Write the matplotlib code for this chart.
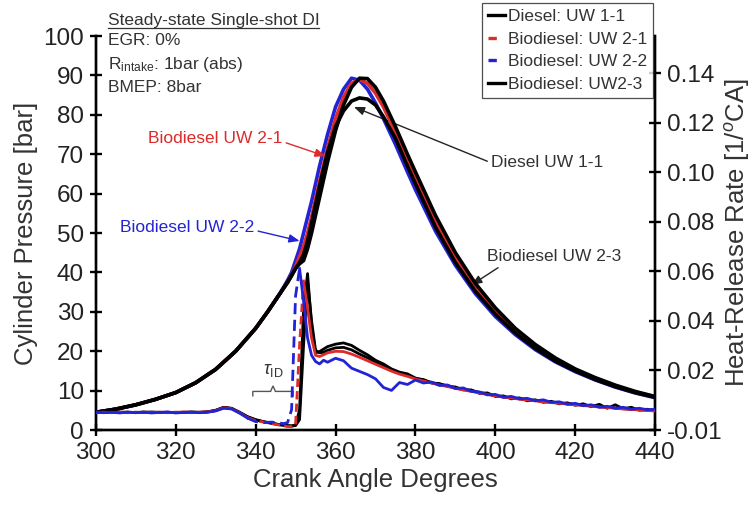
import matplotlib
matplotlib.use("Agg")
import matplotlib.pyplot as plt
from matplotlib.lines import Line2D
from matplotlib.path import Path
from matplotlib.patches import PathPatch

plt.rcParams['font.family'] = ['Liberation Sans', 'DejaVu Sans']
plt.rcParams['mathtext.fontset'] = 'custom'
plt.rcParams['mathtext.rm'] = 'Liberation Sans'
plt.rcParams['mathtext.it'] = 'Liberation Sans:italic'
plt.rcParams['mathtext.fallback'] = 'stixsans'

# ---- cylinder pressure [bar] ----
ca_p = [300, 305, 310, 315, 320, 325, 330, 335, 340, 343, 346, 348, 349, 350, 351, 352, 353, 354,
        356, 358, 360, 362, 364, 366, 368, 370, 372, 375, 378, 380, 385, 390, 395, 400,
        405, 410, 415, 420, 425, 430, 435, 440]
p_diesel_11 = [4.5, 5.3, 6.4, 7.8, 9.5, 12.0, 15.4, 20.0, 25.8, 30.0, 34.5, 37.5, 39.2, 41.0, 42.5, 44.5, 48.0, 52.5,
               62.0, 70.5, 77.0, 81.0, 83.5, 84.3, 84.0, 82.5, 79.5, 74.0, 67.0, 62.5, 51.5, 42.5, 35.2, 29.4,
               24.6, 20.7, 17.5, 15.0, 12.8, 11.0, 9.5, 8.3]
p_bio_21 = [4.5, 5.3, 6.4, 7.8, 9.5, 12.0, 15.4, 20.0, 25.8, 30.0, 34.5, 37.5, 39.3, 41.5, 44.0, 46.5, 50.0, 54.0,
            63.0, 71.5, 79.0, 84.5, 88.0, 89.0, 88.0, 85.5, 82.0, 75.5, 68.5, 64.0, 53.0, 43.8, 36.2, 30.2,
            25.2, 21.2, 17.9, 15.2, 13.0, 11.2, 9.6, 8.4]
p_bio_22 = [4.5, 5.3, 6.4, 7.8, 9.5, 12.0, 15.4, 20.0, 25.8, 30.0, 34.5, 38.0, 40.0, 43.0, 46.0, 50.0, 54.0, 58.0,
            67.0, 75.0, 82.0, 86.5, 89.3, 88.8, 86.5, 83.0, 79.0, 72.5, 65.5, 61.0, 50.5, 41.8, 34.6, 28.8,
            24.2, 20.4, 17.3, 14.8, 12.7, 10.9, 9.4, 8.2]
p_bio_23 = [4.5, 5.3, 6.4, 7.8, 9.5, 12.0, 15.4, 20.0, 25.8, 30.0, 34.5, 37.5, 39.2, 41.0, 42.2, 43.0, 46.0, 50.0,
            59.0, 68.0, 76.0, 82.5, 87.0, 89.3, 89.2, 87.0, 83.5, 77.0, 70.0, 65.5, 54.5, 45.0, 37.2, 31.0,
            25.8, 21.7, 18.3, 15.5, 13.3, 11.4, 9.8, 8.5]

# ---- heat-release rate [1/CA] ----
ca_h = [300, 302, 304, 306, 308, 310, 312, 314, 316, 318, 320, 322, 324, 326, 328, 330, 332, 334,
        336, 338, 340, 342, 344, 346,
        347, 348, 349, 350, 351, 352, 353, 354, 355, 356, 357, 358,
        360, 362, 364, 366, 368, 370, 372, 374, 376, 378, 380, 382, 384, 386, 388, 390, 392, 394,
        396, 398, 400, 402, 404, 406, 408, 410, 412, 414, 416, 418, 420, 422, 424, 426, 428, 430,
        432, 434, 436, 438, 440]
h_diesel_11 = [0.0030, 0.0029, 0.0031, 0.0030, 0.0028, 0.0030, 0.0029, 0.0031, 0.0029, 0.0030, 0.0028, 0.0030,
               0.0031, 0.0029, 0.0032, 0.0038, 0.0050, 0.0046, 0.0030, 0.0012, 0.0000, -0.0008, -0.0014, -0.0020,
               -0.0022, -0.0024, -0.0025, -0.0022, 0.0040, 0.0450, 0.0590, 0.0380, 0.0270, 0.0275, 0.0285, 0.0295,
               0.0305, 0.0310, 0.0300, 0.0280, 0.0262, 0.0240, 0.0225, 0.0205, 0.0192, 0.0185, 0.0168, 0.0160,
               0.0150, 0.0142, 0.0138, 0.0128, 0.0122, 0.0118, 0.0110, 0.0104, 0.0096, 0.0092, 0.0088, 0.0084,
               0.0080, 0.0078, 0.0074, 0.0070, 0.0068, 0.0064, 0.0062, 0.0058, 0.0056, 0.0052, 0.0050, 0.0047,
               0.0044, 0.0042, 0.0040, 0.0038, 0.0036]
h_bio_21 = [0.0029, 0.0030, 0.0028, 0.0030, 0.0029, 0.0029, 0.0030, 0.0028, 0.0030, 0.0029, 0.0029, 0.0031,
            0.0028, 0.0030, 0.0031, 0.0036, 0.0048, 0.0044, 0.0028, 0.0008, -0.0004, -0.0010, -0.0016, -0.0022,
            -0.0025, -0.0028, -0.0028, -0.0022, 0.0300, 0.0560, 0.0450, 0.0330, 0.0260, 0.0255, 0.0262, 0.0270,
            0.0276, 0.0275, 0.0265, 0.0252, 0.0238, 0.0224, 0.0210, 0.0196, 0.0184, 0.0175, 0.0164, 0.0156,
            0.0148, 0.0140, 0.0134, 0.0126, 0.0120, 0.0114, 0.0108, 0.0102, 0.0096, 0.0091, 0.0087, 0.0083,
            0.0079, 0.0076, 0.0072, 0.0069, 0.0066, 0.0063, 0.0060, 0.0057, 0.0054, 0.0051, 0.0049, 0.0046,
            0.0043, 0.0041, 0.0039, 0.0037, 0.0035]
h_bio_22 = [0.0031, 0.0028, 0.0030, 0.0027, 0.0031, 0.0028, 0.0030, 0.0027, 0.0029, 0.0031, 0.0027, 0.0029,
            0.0030, 0.0028, 0.0030, 0.0035, 0.0046, 0.0043, 0.0026, 0.0006, -0.0008, -0.0012, -0.0010, -0.0014,
            -0.0016, -0.0012, 0.0040, 0.0500, 0.0610, 0.0480, 0.0330, 0.0260, 0.0235, 0.0225, 0.0240, 0.0232,
            0.0248, 0.0238, 0.0208, 0.0195, 0.0182, 0.0165, 0.0130, 0.0118, 0.0150, 0.0142, 0.0160, 0.0148,
            0.0152, 0.0138, 0.0140, 0.0126, 0.0128, 0.0114, 0.0112, 0.0100, 0.0102, 0.0090, 0.0094, 0.0084,
            0.0086, 0.0076, 0.0080, 0.0070, 0.0072, 0.0062, 0.0066, 0.0056, 0.0060, 0.0050, 0.0054, 0.0046,
            0.0050, 0.0042, 0.0046, 0.0040, 0.0042]
h_bio_23 = [0.0030, 0.0031, 0.0029, 0.0030, 0.0030, 0.0028, 0.0031, 0.0029, 0.0030, 0.0028, 0.0030, 0.0029,
            0.0030, 0.0030, 0.0031, 0.0037, 0.0049, 0.0045, 0.0029, 0.0011, -0.0001, -0.0009, -0.0015, -0.0021,
            -0.0023, -0.0025, -0.0026, -0.0024, 0.0000, 0.0300, 0.0560, 0.0400, 0.0280, 0.0270, 0.0272, 0.0280,
            0.0290, 0.0292, 0.0282, 0.0265, 0.0250, 0.0232, 0.0218, 0.0200, 0.0188, 0.0178, 0.0166, 0.0162,
            0.0148, 0.0146, 0.0134, 0.0132, 0.0120, 0.0120, 0.0106, 0.0108, 0.0094, 0.0096, 0.0084, 0.0088,
            0.0076, 0.0080, 0.0070, 0.0074, 0.0064, 0.0068, 0.0058, 0.0064, 0.0052, 0.0062, 0.0046, 0.0060,
            0.0044, 0.0050, 0.0038, 0.0042, 0.0036]

labels = ['Diesel: UW 1-1', 'Biodiesel: UW 2-1', 'Biodiesel: UW 2-2', 'Biodiesel: UW2-3']
x_ticks = [300, 320, 340, 360, 380, 400, 420, 440]
p_ticks = [0, 10, 20, 30, 40, 50, 60, 70, 80, 90, 100]
hrr_ticks = [-0.0042, 0.02, 0.04, 0.06, 0.08, 0.10, 0.12, 0.14]
hrr_tick_labels = ['-0.01', '0.02', '0.04', '0.06', '0.08', '0.10', '0.12', '0.14']

red = '#dd2a2a'
blue = '#2323d6'
txt = '#333333'

fig = plt.figure(figsize=(7.54, 5.15), dpi=100)
ax = fig.add_axes([0.127, 0.165, 0.742, 0.765])
ax2 = ax.twinx()

# pressure traces
ax.plot(ca_p, p_bio_22, color=blue, lw=2.6, zorder=3)
ax.plot(ca_p, p_bio_21, color=red, lw=2.6, zorder=4)
ax.plot(ca_p, p_diesel_11, color='k', lw=2.6, zorder=5)
ax.plot(ca_p, p_bio_23, color='k', lw=2.6, zorder=6)

# heat release traces (biodiesel 2-1 / 2-2 dashed around start of combustion)
ax2.plot(ca_h, h_diesel_11, color='k', lw=2.0, zorder=3)
ax2.plot(ca_h, h_bio_23, color='k', lw=2.0, zorder=3)
i0, i1 = ca_h.index(338), ca_h.index(352)
ax2.plot(ca_h[:i0 + 1], h_bio_21[:i0 + 1], color=red, lw=2.0, zorder=4)
ax2.plot(ca_h[i0:i1 + 1], h_bio_21[i0:i1 + 1], color=red, lw=2.0, dashes=(3, 1.5), zorder=4)
ax2.plot(ca_h[i1:], h_bio_21[i1:], color=red, lw=2.0, zorder=4)
j0, j1 = ca_h.index(338), ca_h.index(351)
ax2.plot(ca_h[:j0 + 1], h_bio_22[:j0 + 1], color=blue, lw=2.0, zorder=5)
ax2.plot(ca_h[j0:j1 + 1], h_bio_22[j0:j1 + 1], color=blue, lw=2.0, dashes=(4, 2), zorder=5)
ax2.plot(ca_h[j1:], h_bio_22[j1:], color=blue, lw=2.0, zorder=5)

ax.set_xlim(300, 440)
ax.set_ylim(0, 100)
ax2.set_ylim(-0.0042, 0.155)
ax.set_xticks(x_ticks)
ax.set_yticks(p_ticks)
ax2.set_yticks(hrr_ticks)
ax2.set_yticklabels(hrr_tick_labels)

for a in (ax, ax2):
    a.spines['top'].set_visible(False)
    for s in a.spines.values():
        s.set_linewidth(1.7)
    a.tick_params(direction='inout', length=9, width=1.7, colors='k', labelcolor='#222222', pad=4)
ax.tick_params(axis='y', labelsize=17.5)
ax.tick_params(axis='x', labelsize=17.5)
ax2.tick_params(axis='y', labelsize=17.5)

ax.set_xlabel('Crank Angle Degrees', fontsize=18.5, color=txt, labelpad=3)
ax.set_ylabel('Cylinder Pressure [bar]', fontsize=18.5, color=txt, labelpad=4)
ax2.set_ylabel('Heat-Release Rate [1/$^{o}$CA]', fontsize=18.5, color=txt, labelpad=0)

# conditions block
fs = 12.5
head = ax.text(303.0, 104.0, 'Steady-state Single-shot DI', fontsize=fs, color=txt,
               va='center', ha='left', clip_on=False)
ax.text(303.0, 98.8, 'EGR: 0%', fontsize=fs, color=txt, va='center', ha='left')
ax.text(303.0, 92.9, 'R$_{\\mathrm{intake}}$: 1bar (abs)', fontsize=fs, color=txt, va='center', ha='left')
ax.text(303.0, 87.0, 'BMEP: 8bar', fontsize=fs, color=txt, va='center', ha='left')

# annotations
arrow_k = dict(arrowstyle='-|>,head_length=0.5,head_width=0.2', color='#222222', lw=1.0,
               shrinkA=1, shrinkB=0)
ax.annotate('Diesel UW 1-1', xy=(364.6, 82.0), xytext=(399.0, 67.8), fontsize=fs, color=txt,
            va='center', ha='left', arrowprops=dict(arrow_k, relpos=(0, 0.5)))
ax.annotate('Biodiesel UW 2-3', xy=(394.0, 36.8), xytext=(398.0, 44.0), fontsize=fs, color=txt,
            va='center', ha='left', arrowprops=dict(arrow_k, relpos=(0.12, 0)))
ax.annotate('Biodiesel UW 2-1', xy=(357.5, 69.5), xytext=(313.0, 74.0), fontsize=fs, color=red,
            va='center', ha='left',
            arrowprops=dict(arrow_k, color=red, relpos=(1, 0.3)))
ax.annotate('Biodiesel UW 2-2', xy=(351.0, 48.0), xytext=(306.0, 51.5), fontsize=fs, color=blue,
            va='center', ha='left',
            arrowprops=dict(arrow_k, color=blue, relpos=(1, 0.3)))

# ignition delay brace
tau_start, tau_end, tau_y = 339.3, 349.4, 9.8
tau_mid = 0.5 * (tau_start + tau_end)
brace = Path([(tau_start, tau_y - 1.3), (tau_start, tau_y), (tau_mid - 0.6, tau_y),
              (tau_mid, tau_y + 1.4), (tau_mid + 0.6, tau_y), (tau_end, tau_y), (tau_end, tau_y - 1.3)])
ax.add_patch(PathPatch(brace, fill=False, edgecolor='#555555', lw=1.0, zorder=2))
ax.text(tau_mid, 15.0, '$\\tau_{\\mathrm{ID}}$', fontsize=13, color=txt, ha='center', va='center')

# legend
handles = [Line2D([], [], color='k', lw=2.4),
           Line2D([], [], color=red, lw=2.4, dashes=(2.5, 6)),
           Line2D([], [], color=blue, lw=2.4, dashes=(2.5, 6)),
           Line2D([], [], color='k', lw=2.4)]
leg = ax2.legend(handles, labels, loc='upper right', bbox_to_anchor=(0.866, 0.994),
                 bbox_transform=fig.transFigure, fontsize=12.5, frameon=True, fancybox=False,
                 edgecolor='#222222', handlelength=1.0, handletextpad=0.15, labelspacing=0.42,
                 borderpad=0.35, borderaxespad=0)
leg.get_frame().set_linewidth(0.9)
for t in leg.get_texts():
    t.set_color(txt)

# underline for the heading
fig.canvas.draw()
bb = head.get_window_extent()
inv = fig.transFigure.inverted()
(x0, y0), (x1, _) = inv.transform([(bb.x0, bb.y0 - 0.5), (bb.x1, bb.y0)])
fig.add_artist(Line2D([x0, x1], [y0, y0], color=txt, lw=0.9, transform=fig.transFigure))

fig.savefig('out.png', dpi=100)
